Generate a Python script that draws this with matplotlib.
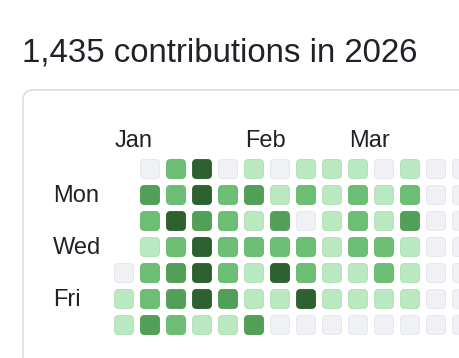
import matplotlib
matplotlib.use("Agg")
import matplotlib.pyplot as plt
from matplotlib.patches import FancyBboxPatch

# ---- data ----
title = "1,435 contributions in 2026"
day_labels = ["", "Mon", "", "Wed", "", "Fri", ""]
month_labels = ["Jan", "Feb", "Mar"]
month_weeks = [0, 5, 9]
# contribution level per week (rows Sun..Sat); None = no cell
weeks = [
    [None, None, None, None, 0, 1, 1],
    [0, 3, 2, 1, 2, 2, 3],
    [2, 2, 4, 2, 3, 3, 2],
    [4, 4, 3, 4, 4, 4, 1],
    [0, 2, 2, 2, 2, 3, 1],
    [1, 3, 1, 2, 1, 1, 3],
    [0, 1, 3, 2, 4, 1, 0],
    [1, 2, 0, 2, 2, 4, 0],
    [1, 1, 1, 1, 1, 1, 0],
    [1, 2, 2, 2, 1, 1, 0],
    [0, 1, 1, 2, 2, 1, 0],
    [1, 2, 3, 1, 1, 1, 0],
    [0, 0, 0, 0, 0, 0, 0],
    [0, 0, 0, 0, 0, 0, 0],
]
level_colors = ["#eff1f5", "#bae8c1", "#6bbe73", "#52a057", "#2d6230"]
level_edges = ["#e2e5ea", "#afdfb6", "#64b66b", "#4c9751", "#2a5c2d"]

# ---- layout (pixels) ----
W, H = 460, 358
pitch, cell = 26.0, 20.0
x0, y0 = 114.0, 159.0
text_color = "#1f2328"
font = ["Liberation Sans", "DejaVu Sans"]

fig = plt.figure(figsize=(W / 100, H / 100), dpi=100)
fig.patch.set_facecolor("white")
ax = fig.add_axes([0, 0, 1, 1])
ax.set_xlim(-x0 / pitch, (W - x0) / pitch)
ax.set_ylim((H - y0) / pitch, -y0 / pitch)
ax.axis("off")

s = cell / pitch
# container box
box = FancyBboxPatch((-3.5, -2.654), 20, 20,
                     boxstyle=f"round,pad=0,rounding_size={10/pitch}",
                     facecolor="white", edgecolor="#d0d7de", linewidth=1.0)
ax.add_patch(box)

for w, col in enumerate(weeks):
    for d, lvl in enumerate(col):
        if lvl is None:
            continue
        p = FancyBboxPatch((w + 0.5 / pitch, d + 0.5 / pitch), s - 1 / pitch, s - 1 / pitch,
                           boxstyle=f"round,pad=0,rounding_size={4/pitch}",
                           facecolor=level_colors[lvl], edgecolor=level_edges[lvl],
                           linewidth=0.6)
        ax.add_patch(p)

for lab, w in zip(month_labels, month_weeks):
    ax.text(w + 0.04, -12 / pitch, lab, ha="left", va="baseline",
            fontsize=17, color=text_color, family=font)

for d, lab in enumerate(day_labels):
    if lab:
        ax.text(-61 / pitch, d + 17 / pitch, lab, ha="left", va="baseline",
                fontsize=17, color=text_color, family=font)

fig.text(22 / W, 1 - 62 / H, title, ha="left", va="baseline",
         fontsize=23.8, color=text_color, family=font)

fig.savefig("out.png", dpi=100, facecolor="white")
